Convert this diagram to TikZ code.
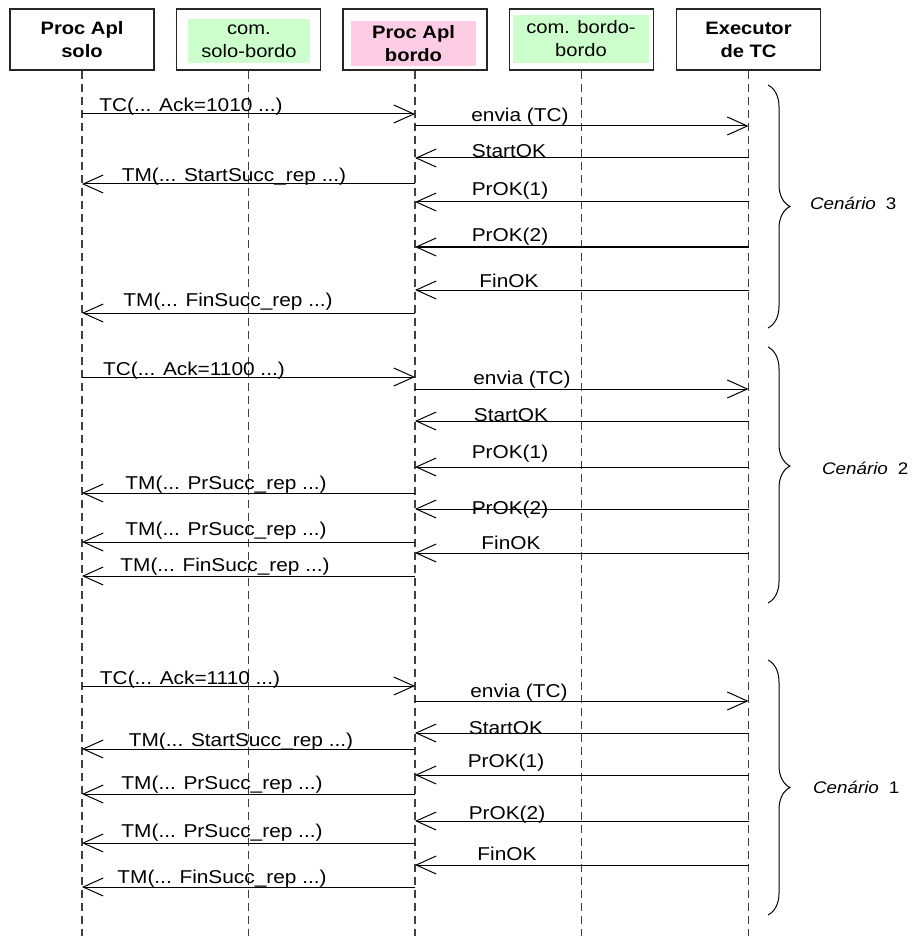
\documentclass[tikz,border=0pt]{standalone}
\usepackage{fontspec}
\setmainfont{Liberation Sans}[FakeStretch=1.12]
\usetikzlibrary{arrows.meta,positioning,decorations.pathreplacing}
\definecolor{comgreen}{HTML}{CCFFCC}
\definecolor{aplpink}{HTML}{FFCCE5}
\definecolor{lifegray}{HTML}{404040}

\begin{document}
\begin{tikzpicture}[x=0.5pt,y=-0.5pt,every node/.style={align=center},
  hdr/.style={draw=black!85,line width=0.7pt,minimum width=72pt,minimum height=30.5pt,font=\fontsize{9}{11.5}\selectfont},
  life/.style={draw=lifegray,line width=0.6pt,dash pattern=on 4pt off 2.5pt},
  msg/.style={line width=0.5pt,-{Straight Barb[length=10pt,width=9pt,line width=0.5pt]}},
  lbl/.style={anchor=base,inner sep=0pt,font=\fontsize{9.3}{11}\selectfont},
  brc/.style={decorate,decoration={brace,amplitude=11pt},line width=0.5pt},
  cen/.style={anchor=west,font=\fontsize{8.4}{10}\selectfont}]
\useasboundingbox[fill=white] (0,0) rectangle (913,936);
% headers
\node[hdr,font=\fontsize{9}{11.5}\selectfont\bfseries] (solo) at (82,39.5) {Proc Apl\\solo};
\node[hdr] (csb) at (248.5,39.5) {};
\node[fill=comgreen,minimum width=61pt,minimum height=22pt,inner sep=0pt,font=\fontsize{9}{11.5}\selectfont] (csbtxt) at (249,41) {com.\\solo-bordo};
\node[hdr] (bordo) at (415,39.5) {};
\node[fill=aplpink,minimum width=62.5pt,minimum height=22.5pt,inner sep=0pt,font=\fontsize{9}{11.5}\selectfont\bfseries] (bordotxt) at (413.5,43.5) {Proc Apl\\bordo};
\node[hdr] (cbb) at (581.5,39.5) {};
\node[fill=comgreen,minimum width=68pt,minimum height=24pt,inner sep=0pt,font=\fontsize{9}{11.5}\selectfont] (cbbtxt) at (581,39) {com. bordo-\\bordo};
\node[hdr,font=\fontsize{9}{11.5}\selectfont\bfseries] (exec) at (748.5,39.5) {Executor\\de TC};
% lifelines
\foreach \n in {solo,csb,bordo,cbb,exec}
  \draw[life] (\n.south) -- (\n |- 0,936);
% messages: from/to/y/label x/label baseline/text
\foreach \f/\t/\y/\lx/\ly/\txt [count=\i] in {
  solo/bordo/114/191/112/{TC(... Ack=1010 ...)},
  bordo/exec/126/520/122/{envia (TC)},
  exec/bordo/158/509/158/{StartOK},
  bordo/solo/184/234/182/{TM(... StartSucc\_rep ...)},
  exec/bordo/202/510/196/{PrOK(1)},
  exec/bordo/247/510/242/{PrOK(2)},
  exec/bordo/290/509/287/{FinOK},
  bordo/solo/313/228/306/{TM(... FinSucc\_rep ...)},
  solo/bordo/377/194/375/{TC(... Ack=1100 ...)},
  bordo/exec/389/522/384/{envia (TC)},
  exec/bordo/421/511/421/{StartOK},
  exec/bordo/467/510/458/{PrOK(1)},
  bordo/solo/493/226/489/{TM(... PrSucc\_rep ...)},
  exec/bordo/509/510/514/{PrOK(2)},
  bordo/solo/542/226/535/{TM(... PrSucc\_rep ...)},
  exec/bordo/553/511/549/{FinOK},
  bordo/solo/576/225/571/{TM(... FinSucc\_rep ...)},
  solo/bordo/686/190/684/{TC(... Ack=1110 ...)},
  bordo/exec/701/519/697/{envia (TC)},
  exec/bordo/733/506/734/{StartOK},
  bordo/solo/749/241/746/{TM(... StartSucc\_rep ...)},
  exec/bordo/775/506/767/{PrOK(1)},
  bordo/solo/794/222/789/{TM(... PrSucc\_rep ...)},
  exec/bordo/821/507/819/{PrOK(2)},
  bordo/solo/843/222/837/{TM(... PrSucc\_rep ...)},
  exec/bordo/865/507/860/{FinOK},
  bordo/solo/887/222/883/{TM(... FinSucc\_rep ...)}}{
  \draw[msg] (\f |- 0,\y) -- (\t |- 0,\y);
  \node[lbl] (lbl\i) at (\lx,\ly) {\txt};
}
% scenarios
\draw[brc] (768,85) -- (768,328);
\node[cen] (cen3) at (803,203) {\textit{Cenário}\hspace{5pt}3};
\draw[brc,decoration={aspect=0.465}] (768,347) -- (768,603);
\node[cen] (cen2) at (815,468) {\textit{Cenário}\hspace{5pt}2};
\draw[brc] (768,660) -- (768,915);
\node[cen] (cen1) at (806,787) {\textit{Cenário}\hspace{5pt}1};
\end{tikzpicture}
\end{document}
